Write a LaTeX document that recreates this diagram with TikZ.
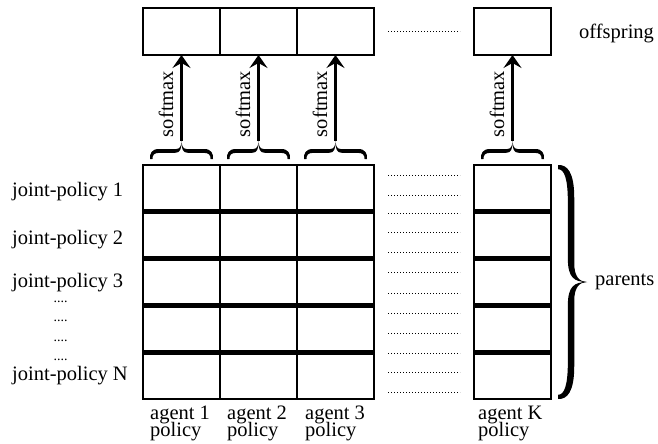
\documentclass[tikz,border=0pt]{standalone}
\usepackage{fontspec}
\setmainfont{Liberation Serif}
\usetikzlibrary{arrows.meta}
% one tapered arm of a curly brace, in local coords (u toward the tip, v along its length)
\newcommand\armpath{(0,0) .. controls ({0.7*\ba},-0.5) and ({\ba+\bt},{0.03*\bL}) .. ({\ba+\bt},{0.14*\bL})
  -- ({\ba+\bt},{\bh-0.08*\bL})
  .. controls ({\ba+\bt},{\bh-0.02*\bL}) and ({0.75*\bw},{\bh-0.3}) .. (\bw,\bh)
  .. controls ({0.55*\bw},\bh) and ({\ba-\bt},{\bh-0.02*\bL}) .. ({\ba-\bt},{\bh-0.1*\bL})
  -- ({\ba-\bt},{0.16*\bL})
  .. controls ({\ba-\bt},{0.06*\bL}) and ({0.5*\ba},{1.3*\bt}) .. (0,{1.3*\bt}) -- cycle}
% #1 width to tip, #2 length, #3 half thickness, #4 tip name, #5 mirror transform
\newcommand\fbrace[5]{%
  \pgfmathsetmacro\bw{#1}\pgfmathsetmacro\bL{#2}\pgfmathsetmacro\bt{#3}%
  \pgfmathsetmacro\ba{0.45*#1}\pgfmathsetmacro\bh{#2/2}%
  \fill \armpath;
  \begin{scope}[shift={(0,\bL)}, #5]\fill \armpath;\end{scope}
  \coordinate (#4) at (\bw,\bh);
}
\begin{document}
\begin{tikzpicture}[x=1pt,y=-1pt,
  cell/.style={draw, line width=2pt, minimum width=77pt, minimum height=46.8pt, inner sep=0pt, outer sep=0pt},
  topbox/.style={draw, line width=2.5pt, minimum width=77pt, minimum height=47pt, inner sep=0pt, outer sep=0pt},
  lab/.style={font=\fontsize{20.5}{20.5}\selectfont, inner sep=0pt},
  smalldots/.style={font=\fontsize{14}{14}\selectfont, inner sep=0pt},
  divider/.style={line width=5pt},
  frame/.style={line width=2.5pt},
  dotline/.style={line width=0.9pt, dash pattern=on 0.9pt off 2.1pt},
  arr/.style={-{Stealth[length=13pt,width=18pt,inset=5pt]}, line width=2.2pt}
]
\useasboundingbox (0,0) rectangle (658,444);

% offspring row
\foreach \c/\x in {1/181.5,2/258.5,3/335.5,K/512.5}
  \node[topbox] (t\c) at (\x,31.5) {};
\draw[dotline] (388,31) -- (460,31);
\node[lab, anchor=west] (off) at (579,33) {offspring};

% parents grid
\foreach \c/\x in {1/181.5,2/258.5,3/335.5,K/512.5}
  \foreach \r/\y in {1/188.4,2/235.2,3/282,4/328.8,5/375.6}
    \node[cell] (p\c\r) at (\x,\y) {};
\foreach \r in {1,2,3,4}{
  \draw[divider] (p1\r.south west) -- (p3\r.south east);
  \draw[divider] (pK\r.south west) -- (pK\r.south east);
}
\draw[frame] (p11.north west) rectangle (p35.south east);
\draw[frame] (pK1.north west) rectangle (pK5.south east);

\foreach \y in {175,195,213.5,232.5,252.5,272.5,293,313,333,353,372.5,392}
  \draw[dotline] (388,\y) -- (460,\y);

% braces, arrows, softmax
\foreach \c/\x in {1/181.5,2/258.5,3/335.5,K/512.5}{
  \begin{scope}[shift={(\x-31.5,159)}, x={(0pt,1pt)}, y={(1pt,0pt)}]
    \fbrace{18}{63}{1.9}{b\c}{xscale=-1}
  \end{scope}
  \draw[arr] (b\c) -- (t\c.south);
  \node[lab, rotate=90] (s\c) at (\x-15.5,104) {softmax};
}

% right brace
\begin{scope}[shift={(558,165)}, x={(1pt,0pt)}, y={(0pt,-1pt)}]
  \fbrace{29}{234}{3.2}{bR}{yscale=-1}
\end{scope}
\node[lab, anchor=west] (par) at (595,282) {parents};

% row labels
\node[lab, anchor=base west] (j1) at (12,196) {joint-policy 1};
\node[lab, anchor=base west] (j2) at (12,244) {joint-policy 2};
\node[lab, anchor=base west] (j3) at (12,287) {joint-policy 3};
\foreach \i/\y in {1/302,2/321.5,3/341,4/360.5}
  \node[smalldots, anchor=base] (d\i) at (60.5,\y) {....};
\node[lab, anchor=base west] (jN) at (12,380) {joint-policy N};

% column labels
\foreach \c/\x in {1/150,2/227,3/305,K/478}{
  \node[lab, anchor=base west] (a\c) at (\x,419) {agent \c};
  \node[lab, anchor=base west] (q\c) at (\x,436) {policy};
}
\end{tikzpicture}
\end{document}
